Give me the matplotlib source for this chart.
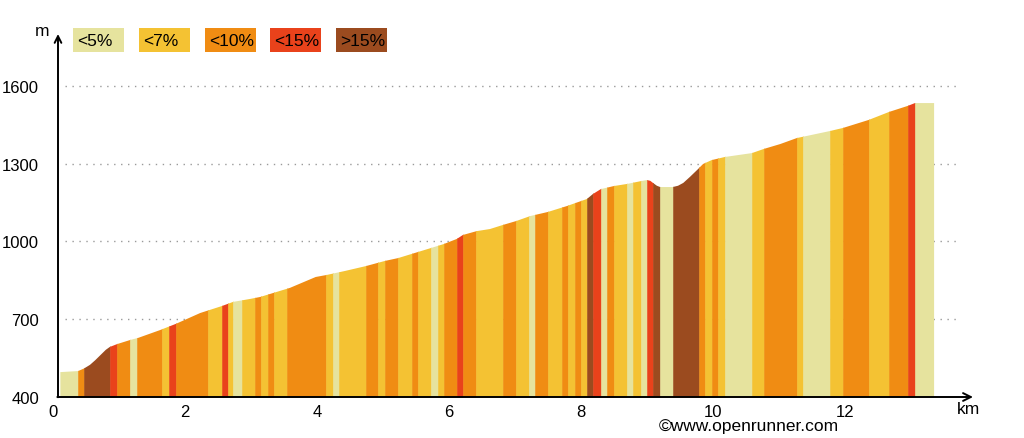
import numpy as np
import matplotlib
matplotlib.use("Agg")
import matplotlib.pyplot as plt
from matplotlib.patches import Polygon, Rectangle

plt.rcParams['font.family'] = ['Liberation Sans', 'DejaVu Sans']

# ---- data ----
# elevation profile (km, m)
dist_km = [0.11, 0.38, 0.47, 0.56, 0.64, 0.72, 0.80, 0.86, 0.97, 1.17, 1.29, 1.62, 1.86,
           2.23, 2.56, 2.73,
           2.98, 3.14, 3.59, 3.98, 4.15, 4.42, 4.74, 5.03, 5.23, 5.73, 5.92, 6.12, 6.21,
           6.42, 6.62, 6.82, 7.02, 7.23, 7.50, 7.79, 8.09, 8.18, 8.30, 8.50, 8.70, 8.91,
           9.00, 9.05, 9.09, 9.15, 9.20, 9.39, 9.47, 9.55, 9.65, 9.76, 9.85, 9.98, 10.18,
           10.59, 10.77, 11.02, 11.27, 11.77, 11.97, 12.36, 12.67, 12.95, 13.06, 13.35]
elev_m = [496, 500, 510, 524, 542, 562, 582, 593, 604, 620, 628, 658, 682,
          724, 751, 767,
          778, 786, 821, 863, 871, 886, 905, 925, 936, 975, 990, 1010, 1025,
          1040, 1048, 1064, 1079, 1098, 1114, 1137, 1164, 1183, 1202, 1214, 1222, 1233,
          1237, 1234, 1226, 1215, 1210, 1210, 1215, 1226, 1249, 1276, 1299, 1314, 1326,
          1341, 1357, 1376, 1399, 1426, 1438, 1469, 1500, 1523, 1534, 1534]

# gradient band boundaries (km) and class of each band
band_edges = [0.11, 0.38, 0.47, 0.86, 0.97, 1.17, 1.27, 1.65, 1.76, 1.86, 2.35, 2.56, 2.65,
              2.73, 2.86, 3.06, 3.15, 3.26, 3.35, 3.55, 4.14, 4.24, 4.33, 4.74, 4.92, 5.03,
              5.23, 5.44, 5.53, 5.73, 5.83, 5.92, 6.12, 6.21, 6.41, 6.82, 7.02, 7.21, 7.30,
              7.50, 7.71, 7.80, 7.91, 8.00, 8.09, 8.18, 8.30, 8.39, 8.50, 8.70, 8.79, 8.91,
              9.00, 9.09, 9.20, 9.39, 9.79, 9.88, 9.98, 10.08, 10.18, 10.59, 10.77, 11.27,
              11.36, 11.77, 11.97, 12.36, 12.67, 12.95, 13.06, 13.36]
band_class = ['L', 'O', 'B', 'R', 'O', 'L', 'O', 'Y', 'R', 'O', 'Y', 'R', 'Y',
              'L', 'Y', 'O', 'Y', 'O', 'Y', 'O', 'Y', 'L', 'Y', 'O', 'Y', 'O',
              'Y', 'O', 'Y', 'L', 'Y', 'O', 'R', 'O', 'Y', 'O', 'Y', 'L', 'O',
              'Y', 'O', 'Y', 'O', 'Y', 'B', 'R', 'L', 'O', 'Y', 'L', 'Y', 'L',
              'R', 'B', 'L', 'B', 'O', 'Y', 'O', 'Y', 'L', 'Y', 'O', 'Y',
              'L', 'Y', 'O', 'Y', 'O', 'R', 'L']

legend_keys = ['L', 'Y', 'O', 'R', 'B']
legend_labels = ['<5%', '<7%', '<10%', '<15%', '>15%']
class_colors = {'L': '#e6e39e', 'Y': '#f4c233', 'O': '#f08c13', 'R': '#e9421b', 'B': '#9b4b1f'}

x_ticks = [0, 2, 4, 6, 8, 10, 12]
y_ticks = [400, 700, 1000, 1300, 1600]

# ---- figure ----
W, H = 1024, 439
fig = plt.figure(figsize=(W / 100, H / 100), dpi=100)
ax = fig.add_axes([53 / W, 41 / H, 947 / W, 378 / H])
xmax = 947 / 66.0
ymin, ymax = 400, 400 + 378 / 0.2592
ax.set_xlim(0, xmax)
ax.set_ylim(ymin, ymax)
for s in ax.spines.values():
    s.set_visible(False)

# dotted grid
ax.hlines(y_ticks[1:], 0.18, 13.74, colors='#9a9a9a', linestyles=(0, (1, 4)), linewidth=1.0, zorder=0)

# profile clip polygon
xs = np.array(dist_km)
ys = np.array(elev_m)
verts = np.column_stack([np.r_[xs[0], xs, xs[-1]], np.r_[ymin, ys, ymin]])
clip = Polygon(verts, closed=True, transform=ax.transData)

lefts = np.array(band_edges[:-1])
widths = np.diff(band_edges)
cols = [class_colors[c] for c in band_class]
bars = ax.bar(lefts, ymax - ymin, width=widths, bottom=ymin, align='edge',
              color=cols, edgecolor=cols, linewidth=0.4, zorder=2)
for b in bars:
    b.set_clip_path(clip)

# axes arrows
x0 = 5 / 66.0
ax.annotate('', xy=(x0, 400 + 363 / 0.2592), xytext=(x0, ymin - 1),
            arrowprops=dict(arrowstyle='->', lw=1.4, color='black', shrinkA=0, shrinkB=0,
                            mutation_scale=12), annotation_clip=False, zorder=5)
ax.annotate('', xy=(920 / 66.0, ymin), xytext=(x0 - 0.01, ymin),
            arrowprops=dict(arrowstyle='->', lw=1.4, color='black', shrinkA=0, shrinkB=0,
                            mutation_scale=14), annotation_clip=False, zorder=5)

ax.set_xticks(x_ticks)
ax.set_xticklabels([str(t) for t in x_ticks], fontsize=12)
ax.set_yticks(y_ticks)
ax.set_yticklabels([str(t) for t in y_ticks], fontsize=12)
ax.tick_params(axis='both', length=0, colors='black')
ax.tick_params(axis='y', pad=10)
ax.tick_params(axis='x', pad=5)

fig.text(968 / W, 1 - 410 / H, 'km', ha='center', va='center', fontsize=12.5)
fig.text(42 / W, 1 - 31 / H, 'm', ha='center', va='center', fontsize=12.5)
fig.text(749 / W, 1 - 427 / H, '©www.openrunner.com', ha='center', va='center', fontsize=12.5)

# legend boxes
box_x = [73, 139, 205, 270, 336]
for bx, key, lab in zip(box_x, legend_keys, legend_labels):
    fig.patches.append(Rectangle((bx / W, 1 - 53 / H), 51 / W, 24 / H,
                                 transform=fig.transFigure, facecolor=class_colors[key],
                                 edgecolor='none'))
    fig.text((bx + 4) / W, 1 - 41 / H, lab, ha='left', va='center', fontsize=12.5, color='black')

fig.savefig('out.png', dpi=100)
